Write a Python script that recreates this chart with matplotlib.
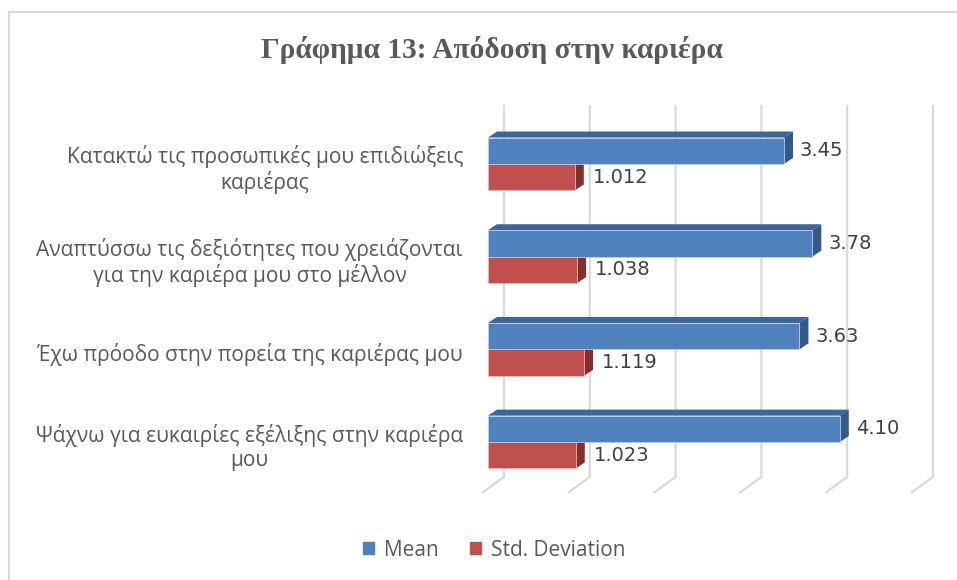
import matplotlib.pyplot as plt
from matplotlib.patches import Polygon, Patch
from matplotlib.lines import Line2D

# data
categories = ['Κατακτώ τις προσωπικές μου επιδιώξεις\nκαριέρας',
              'Αναπτύσσω τις δεξιότητες που χρειάζονται\nγια την καριέρα μου στο μέλλον',
              'Έχω πρόοδο στην πορεία της καριέρας μου',
              'Ψάχνω για ευκαιρίες εξέλιξης στην καριέρα\nμου']
mean_vals = [3.45, 3.78, 3.63, 4.10]
std_vals = [1.012, 1.038, 1.119, 1.023]
mean_labels = ['3.45', '3.78', '3.63', '4.10']
std_labels = ['1.012', '1.038', '1.119', '1.023']
grid_vals = [0, 1, 2, 3, 4, 5]

BLUE, BLUE_TOP, BLUE_SIDE = '#4F81BD', '#3D6597', '#34588A'
RED, RED_SIDE = '#C0504D', '#842F2D'
GRID = '#D9D9D9'

fig = plt.figure(figsize=(9.57, 5.8), dpi=100)
ax = fig.add_axes([470/957, 80/580, 480/957, 410/580])
ax.set_xlim(-0.2098, 5.385)
ax.set_ylim(3.625, -0.798)
ax.axis('off')

# 3d look: depth offset of bars and of the floor (data units)
h = 0.285
dx, dy = 0.105, -0.065
back_dx, top_c, base_c = 0.1865, -0.636, 3.376
floor_dx, floor_c = -0.256, 3.549

for k in grid_vals:
    xb = k + back_dx
    ax.plot([xb, xb, xb + floor_dx], [top_c, base_c, floor_c],
            color=GRID, lw=1.6, solid_capstyle='butt', zorder=1)

for i, (m, s) in enumerate(zip(mean_vals, std_vals)):
    # red bar (lower)
    ax.add_patch(Polygon([(s, i), (s + dx, i + dy), (s + dx, i + h + dy), (s, i + h)],
                         closed=True, fc=RED_SIDE, ec='none', zorder=2))
    ax.barh(i + h/2, s, height=h, color=RED, edgecolor='#E8B9B8', lw=0.6, zorder=3)
    # blue bar (upper)
    t = i - h
    ax.add_patch(Polygon([(0, t), (m, t), (m + dx, t + dy), (dx, t + dy)],
                         closed=True, fc=BLUE_TOP, ec='none', zorder=4))
    ax.add_patch(Polygon([(m, t), (m + dx, t + dy), (m + dx, i + dy), (m, i)],
                         closed=True, fc=BLUE_SIDE, ec='none', zorder=4))
    ax.barh(i - h/2, m, height=h, color=BLUE, edgecolor='#B9CDE5', lw=0.6, zorder=5)

    ax.text(m + 0.186, i - h/2, mean_labels[i], ha='left', va='center',
            fontsize=14, color='#404040', zorder=6)
    ax.text(s + 0.21, i + h/2, std_labels[i], ha='left', va='center',
            fontsize=14, color='#404040', zorder=6)
    ax.text(-0.291, i + 0.06, categories[i], ha='right', va='center',
            multialignment='center', fontsize=15.1, color='#595959',
            family='Open Sans', linespacing=1.15)

fig.text(492/957, 1 - 50/580, 'Γράφημα 13: Απόδοση στην καριέρα',
         ha='center', va='center', fontsize=21.2, fontweight='bold',
         family='Liberation Serif', color='#595959')

handles = [Patch(color=BLUE), Patch(color=RED)]
fig.legend(handles, ['Mean', 'Std. Deviation'], loc='center',
           bbox_to_anchor=(494/957, 1 - 550/580), ncol=2, frameon=False,
           handlelength=0.55, handleheight=0.55, handletextpad=0.45,
           columnspacing=1.5, prop={'family': 'Open Sans', 'size': 15},
           labelcolor='#595959')

# chart border (top and left visible)
fig.add_artist(Line2D([9/957, 1], [1 - 12/580, 1 - 12/580], color=GRID, lw=1.5))
fig.add_artist(Line2D([9/957, 9/957], [0, 1 - 12/580], color=GRID, lw=1.5))

fig.savefig('out.png', dpi=100)
